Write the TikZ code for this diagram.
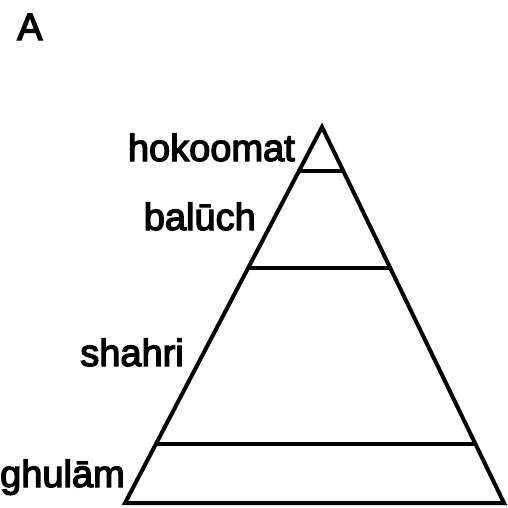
\documentclass[tikz,border=0pt]{standalone}
\usepackage{fontspec}
\setmainfont{Liberation Sans}
\newfontfamily\labfont{Liberation Sans}[FakeBold=3.5]
\usetikzlibrary{calc}
\begin{document}
\begin{tikzpicture}[x=1pt,y=-1pt,
  edge/.style={line width=4pt,line join=miter,line cap=round},
  lbl/.style={inner sep=0pt,font=\labfont\fontsize{38}{40}\selectfont}]
\useasboundingbox (0,0) rectangle (508,507);
\coordinate (apex) at (322,127);
\coordinate (bl) at (125,503);
\coordinate (br) at (504,503);
\coordinate (l1) at ($(apex)!{44/376}!(bl)$);
\coordinate (r1) at ($(apex)!{44/376}!(br)$);
\coordinate (l2) at ($(apex)!{141/376}!(bl)$);
\coordinate (r2) at ($(apex)!{141/376}!(br)$);
\coordinate (l3) at ($(apex)!{317/376}!(bl)$);
\coordinate (r3) at ($(apex)!{317/376}!(br)$);
\draw[edge] (apex) -- (bl) -- (br) -- cycle;
\draw[edge] (l1) -- (r1);
\draw[edge] (l2) -- (r2);
\draw[edge] (l3) -- (r3);
\node[lbl,anchor=base west] (A) at (17,40) {A};
\node[lbl,anchor=base east] (hok) at (295,161) {hokoomat};
\node[lbl,anchor=base east] (bal) at (256,230) {balūch};
\node[lbl,anchor=base east] (sha) at (184,366) {shahri};
\node[lbl,anchor=base east] (ghu) at (125,487) {ghulām};
\end{tikzpicture}
\end{document}
